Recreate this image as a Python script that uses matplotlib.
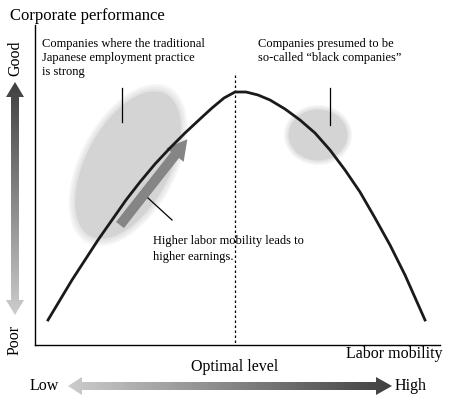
import numpy as np
import matplotlib

matplotlib.use("Agg")
import matplotlib.pyplot as plt
from matplotlib.patches import Ellipse, FancyArrow, Polygon

# curve points (pixel coords, y down)
curve_x = [48, 60, 72, 85, 98, 112, 126, 140, 155, 170, 185, 200, 212, 224, 235,
           246, 258, 270, 285, 300, 315, 330, 345, 360, 375, 390, 405, 425]
curve_y = [320, 300, 280, 260, 240, 220, 200, 182, 164, 148, 133, 119, 108, 98, 92,
           92, 95, 100, 109, 120, 133, 150, 170, 192, 218, 245, 275, 320]

fig = plt.figure(figsize=(4.5, 4.05), dpi=100)
ax = fig.add_axes([0, 0, 1, 1])
ax.set_xlim(0, 450)
ax.set_ylim(405, 0)
ax.axis("off")

serif = "Liberation Serif"

# fuzzy blobs
for k in range(4):
    a = 0.3 if k == 3 else 0.12
    ax.add_patch(Ellipse((128, 165), 96 - k * 4, 176 - k * 5, angle=28,
                         color="#b0b0b0", alpha=a, lw=0))
    ax.add_patch(Ellipse((318, 135), 68 - k * 3, 60 - k * 3,
                         color="#b0b0b0", alpha=a, lw=0))

# arrow inside left blob
ax.add_patch(FancyArrow(120, 225, 55, -70, width=10, head_width=22,
                        head_length=20, color="#858585", lw=0))

# axes lines
ax.plot([35, 35], [25, 345], color="black", lw=1)
ax.plot([35, 440], [345, 345], color="black", lw=1)

# dotted optimal line
ax.plot([235, 235], [75, 345], color="black", lw=0.9, ls=(0, (2, 2)))

# curve
ax.plot(curve_x, curve_y, color="#1a1a1a", lw=2, solid_joinstyle="round")

# leader lines
ax.plot([122, 122], [88, 122], color="black", lw=0.9)
ax.plot([330, 330], [88, 125], color="black", lw=0.9)
ax.plot([148, 172], [198, 220], color="black", lw=0.9)


def gradient_arrow(verts, vertical, dark_first):
    poly = Polygon(verts, closed=True, facecolor="none", edgecolor="none")
    ax.add_patch(poly)
    g = np.linspace(0.25, 0.8, 256)
    if not dark_first:
        g = g[::-1]
    img = g[:, None] if vertical else g[None, :]
    xs = [v[0] for v in verts]
    ys = [v[1] for v in verts]
    im = ax.imshow(img, cmap="gray", vmin=0, vmax=1, aspect="auto",
                   extent=[min(xs), max(xs), max(ys), min(ys)] if vertical
                   else [max(xs), min(xs), max(ys), min(ys)], zorder=2)
    im.set_clip_path(poly)


# vertical arrow (dark top)
gradient_arrow([(15, 82), (24, 97), (19, 97), (19, 300), (24, 300), (15, 315),
                (6, 300), (11, 300), (11, 97), (6, 97)], True, True)
# horizontal arrow (dark right)
gradient_arrow([(68, 386), (82, 377), (82, 382), (376, 382), (376, 377),
                (392, 386), (376, 395), (376, 390), (82, 390), (82, 395)],
               False, True)

ax.text(10, 16, "Corporate performance", fontsize=12, family=serif, va="center")
ax.text(15, 58, "Good", fontsize=11.5, family=serif, rotation=90, ha="center", va="center")
ax.text(15, 340, "Poor", fontsize=11.5, family=serif, rotation=90, ha="center", va="center")
ax.text(442, 354, "Labor mobility", fontsize=11.5, family=serif, ha="right", va="center")
ax.text(235, 367, "Optimal level", fontsize=11.5, family=serif, ha="center", va="center")
ax.text(30, 386, "Low", fontsize=11.5, family=serif, va="center")
ax.text(395, 386, "High", fontsize=11.5, family=serif, va="center")

ax.text(42, 38, "Companies where the traditional\nJapanese employment practice\nis strong",
        fontsize=9, family=serif, va="top", linespacing=1.25)
ax.text(258, 38, "Companies presumed to be\nso-called \u201cblack companies\u201d",
        fontsize=9, family=serif, va="top", linespacing=1.25)
ax.text(153, 235, "Higher labor mobility leads to\nhigher earnings.",
        fontsize=9, family=serif, va="top", linespacing=1.4)

fig.savefig("out.png", dpi=100)
